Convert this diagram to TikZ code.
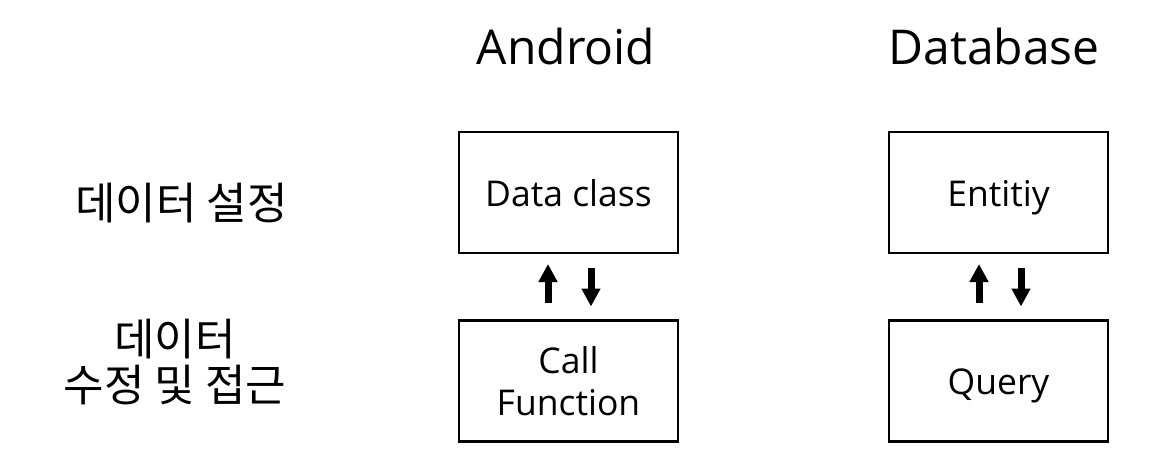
\documentclass[tikz,border=0pt]{standalone}
\usepackage{fontspec}
\setmainfont{Open Sans}
\newfontfamily\kofont{Noto Sans CJK KR}
\usetikzlibrary{arrows.meta}
\tikzset{
  box/.style={draw=black, line width=2.6pt, minimum width=219pt, minimum height=121pt,
    inner sep=0pt, outer sep=0pt, align=center, font=\fontsize{35.5}{42}\selectfont},
  onebox/.style={box, text height=37pt, text depth=10pt},
  title/.style={anchor=base, inner sep=0pt, font=\fontsize{48}{56}\selectfont},
  kolabel/.style={inner sep=0pt, align=center, font=\kofont\fontsize{44}{46}\selectfont},
  updown/.style={line width=7pt, -{Triangle[width=18pt,length=18pt]}}
}
\begin{document}
\begin{tikzpicture}[x=1pt,y=-1pt]
\useasboundingbox (0,0) rectangle (1154,450);
% titles
\node[title] (tA) at (566,64) {Android};
\node[title] (tD) at (994,64) {Database};
% row labels
\node[kolabel] (l1) at (181.5,203) {데이터 설정};
\node[kolabel] (l2) at (175,362) {데이터\\수정 및 접근};
% boxes
\node[onebox] (dc) at (568.5,192.5) {Data class};
\node[box] (cf) at (568.5,381) {Call\\Function};
\node[onebox] (en) at (998.5,192.5) {Entitiy};
\node[onebox] (qu) at (998.5,381) {Query};
% arrows
\draw[updown] ([xshift=-20.5pt,yshift=18pt]cf.north) -- ([xshift=-20.5pt,yshift=-11pt]dc.south);
\draw[updown] ([xshift=22.5pt,yshift=-15pt]dc.south) -- ([xshift=22.5pt,yshift=14pt]cf.north);
\draw[updown] ([xshift=-19.5pt,yshift=18pt]qu.north) -- ([xshift=-19.5pt,yshift=-11pt]en.south);
\draw[updown] ([xshift=22.5pt,yshift=-15pt]en.south) -- ([xshift=22.5pt,yshift=14pt]qu.north);
\end{tikzpicture}
\end{document}
